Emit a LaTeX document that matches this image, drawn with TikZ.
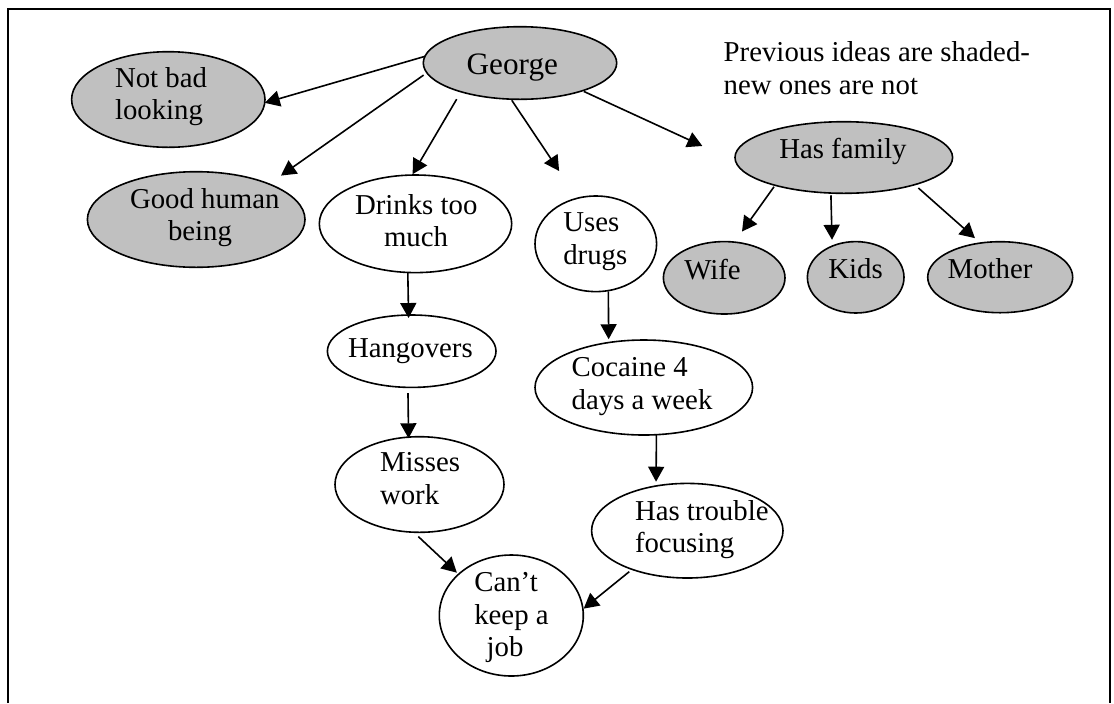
\documentclass[tikz,border=0pt]{standalone}
\usepackage{fontspec}
\setmainfont{Liberation Serif}
\usetikzlibrary{shapes.geometric,arrows.meta}

\definecolor{oldidea}{RGB}{192,192,192}

% one drawing unit (a "px") is half a point
\newdimen\pxu \pxu=0.5pt

% text placed inside an ellipse: #1 = left edge of the text block relative to
% the ellipse centre, #2 = height of the first baseline above the centre
\newcommand\ntext[3]{\raisebox{#2\pxu}[0pt][0pt]{\makebox[0pt][l]{\hspace*{#1\pxu}\begin{tabular}[t]{@{}l@{}}#3\end{tabular}}}}

\newcommand\bodysize{\fontsize{14.4pt}{16.2pt}\selectfont}
\newcommand\bigsize{\fontsize{15.6pt}{18pt}\selectfont}

\begin{document}
\begin{tikzpicture}[
  x=0.5pt, y=-0.5pt,
  font=\bodysize,
  idea/.style={ellipse, draw, line width=0.8pt, inner sep=0pt, outer sep=0pt, fill=white},
  oldone/.style={idea, fill=oldidea},
  link/.style={-{Triangle[length=7.5pt,width=8pt]}, line width=0.8pt},
]
\useasboundingbox (0,0) rectangle (1114,703);

% frame (open at the bottom)
\draw[line width=1.3pt] (8,703) -- (8,9) -- (1110,9) -- (1110,703);

% legend
\node[anchor=base west, inner sep=0pt] (legend) at (723.3,61.7)
  {\begin{tabular}[t]{@{}l@{}}Previous ideas are shaded-\\new ones are not\end{tabular}};

% ideas
\node[oldone, minimum width=96.7pt, minimum height=36.3pt, font=\bigsize] (george) at (520,63)
  {\ntext{-53.3}{-11}{George}};
\node[oldone, minimum width=96.7pt, minimum height=47.8pt] (notbad) at (168.3,99.5)
  {\ntext{-53.3}{12.5}{Not bad\\looking}};
\node[oldone, minimum width=108.8pt, minimum height=47.8pt] (good) at (196.2,219.5)
  {\ntext{-66.2}{11.2}{Good human\\\hspace*{38\pxu}being}};
\node[idea, minimum width=96.2pt, minimum height=48.8pt] (drinks) at (415.5,223.8)
  {\ntext{-60.5}{9.8}{Drinks too\\\hspace*{29\pxu}much}};
\node[idea, minimum width=60.8pt, minimum height=47.8pt] (drugs) at (595.8,243.8)
  {\ntext{-32.5}{12.1}{Uses\\drugs}};
\node[oldone, minimum width=108.8pt, minimum height=35.8pt] (family) at (843.8,157.5)
  {\ntext{-64.5}{-0.8}{Has family}};
\node[oldone, minimum width=60.8pt, minimum height=36.2pt] (wife) at (724.2,277.8)
  {\ntext{-39.9}{-1.5}{Wife}};
\node[oldone, minimum width=48.3pt, minimum height=35.7pt] (kids) at (855.7,277.3)
  {\ntext{-27.4}{-1}{Kids}};
\node[oldone, minimum width=72.5pt, minimum height=35.5pt] (mother) at (1000.2,277.2)
  {\ntext{-52.5}{-1.1}{Mother}};
\node[idea, minimum width=84.3pt, minimum height=36.2pt] (hangovers) at (411.7,351.2)
  {\ntext{-63.7}{-6.1}{Hangovers}};
\node[idea, minimum width=108.8pt, minimum height=47.5pt] (cocaine) at (643.8,387.5)
  {\ntext{-72.1}{10.8}{Cocaine 4\\days a week}};
\node[idea, minimum width=84.5pt, minimum height=47.8pt] (misses) at (419.5,484.5)
  {\ntext{-39.5}{12.8}{Misses\\work}};
\node[idea, minimum width=95.7pt, minimum height=47.3pt] (focus) at (687.3,530.7)
  {\ntext{-52.3}{10.7}{Has trouble\\focusing}};
\node[idea, minimum width=72pt, minimum height=60.5pt] (job) at (511.3,615.5)
  {\ntext{-37}{23.8}{Can’t\\keep a\\\hspace*{12.4\pxu}job}};

% connectors
\draw[link] (george.176) -- (notbad.-2);
\draw[link, shorten <=2pt, shorten >=7.3pt] (george.186.6) -- (good.26);
\draw[link, shorten <=4.3pt, shorten >=0.5pt] (george.206.1) -- (drinks.94.2);
\draw[link, shorten <=0.7pt, shorten >=16.4pt] (george.256.2) -- (drugs.112.5);
\draw[link, shorten <=0.8pt, shorten >=18.3pt] (george.-24.3) -- (family.182.8);
\draw[link, shorten <=0.9pt, shorten >=6.5pt] (family.202.3) -- (wife.74.3);
\draw[link, shorten <=1.1pt, shorten >=3.15pt] (family.250.8) -- (kids.127.3);
\draw[link, shorten <=2.5pt, shorten >=3.7pt] (family.-21.8) -- (mother.120);
\draw[link, shorten >=-1.5pt] (drinks.261.3) -- (hangovers.95.6);
\draw[link, shorten <=2.9pt, shorten >=-0.6pt] (hangovers.264.4) -- (misses.103.6);
\draw[link, shorten <=0.35pt, shorten >=1.65pt] (drugs.-75.3) -- (cocaine.128.5);
\draw[link, shorten >=2.15pt] (cocaine.-75.7) -- (focus.125);
\draw[link, shorten <=3.2pt, shorten >=1.2pt] (misses.263.1) -- (job.142.9);
\draw[link, shorten <=1.85pt, shorten >=0.5pt] (focus.215.1) -- (job.5.2);
\end{tikzpicture}
\end{document}
